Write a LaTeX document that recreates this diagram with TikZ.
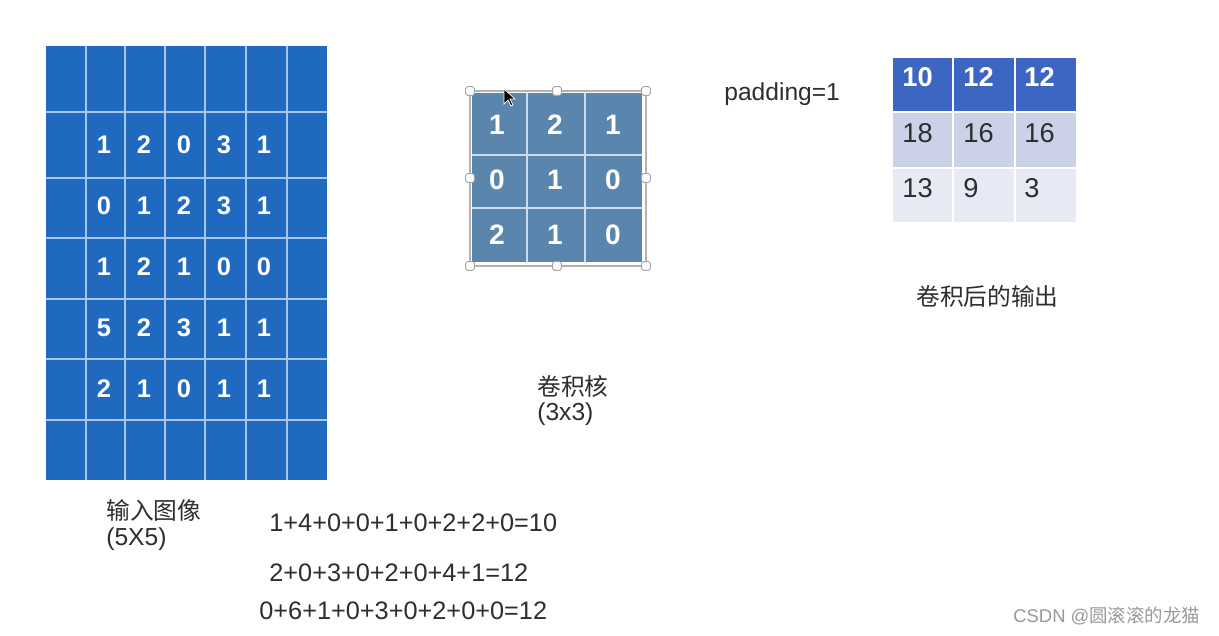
\documentclass[tikz,border=0pt]{standalone}
\usepackage{fontspec}
\setmainfont{Liberation Sans}
\newfontfamily\cjk{Noto Sans CJK SC}
\usetikzlibrary{positioning}
\definecolor{inblue}{HTML}{1F69C1}
\definecolor{inline}{HTML}{A8C6EC}
\definecolor{kerblue}{HTML}{5A86AD}
\definecolor{kerline}{HTML}{C9DCEE}
\definecolor{outhead}{HTML}{3D65C2}
\definecolor{outmid}{HTML}{CBD1E7}
\definecolor{outlow}{HTML}{E7E9F4}
\definecolor{txtdark}{HTML}{2E2E2E}

\begin{document}
\begin{tikzpicture}[
        x=0.02cm, y=-0.02cm,
        cellnum/.style={text=white, inner sep=0pt,
                        font=\fontsize{14.5}{16}\selectfont\bfseries},
        outnum/.style={anchor=west, inner sep=0pt, text=txtdark,
                       font=\fontsize{15.5}{18}\selectfont},
        label/.style={anchor=west, inner sep=0pt, text=txtdark,
                      font=\fontsize{14}{16}\selectfont},
        cjklabel/.style={anchor=west, inner sep=0pt, text=txtdark,
                         font=\fontsize{13.5}{16}\selectfont\cjk},
        handle/.style={draw=gray!70, fill=white, line width=0.5pt,
                       minimum size=5pt, inner sep=0pt, rounded corners=1pt}
      ]
      \useasboundingbox[fill=white] (0,0) rectangle (1219,635);

      % input image 5x5 with padding
      \fill[inblue] (46,46) rectangle (327,480);
      \foreach \x in {86,125,165,205,246,287}
        \draw[inline, line width=1.2pt] (\x,46) -- (\x,480);
      \foreach \y in {112,178,238,299,359,420}
        \draw[inline, line width=1.2pt] (46,\y) -- (327,\y);
      \foreach \row [count=\r] in {{1,2,0,3,1},{0,1,2,3,1},{1,2,1,0,0},
                                   {5,2,3,1,1},{2,1,0,1,1}}
        \foreach \v [count=\c] in \row
          \node[cellnum] (in-\r-\c) at ({64+40*\c},{145+61*(\r-1)}) {\v};

      % kernel 3x3
      \fill[kerblue] (472,93) rectangle (642,262);
      \draw[kerline, line width=1pt] (527,93) -- (527,262);
      \draw[kerline, line width=1pt] (585,93) -- (585,262);
      \draw[kerline, line width=1pt] (472,155) -- (642,155);
      \draw[kerline, line width=1pt] (472,208) -- (642,208);
      \foreach \row [count=\r] in {{1,2,1},{0,1,0},{2,1,0}}
        \foreach \v [count=\c] in \row
          \node[cellnum, font=\fontsize{16}{18}\selectfont\bfseries]
            (ker-\r-\c) at ({439+58*\c},{70+55*\r}) {\v};
      \draw[gray!60, line width=0.7pt] (470,91) rectangle (646,266);
      \foreach \hx/\hy in {470/91,557/91,646/91,470/178,646/178,
                           470/266,557/266,646/266}
        \node[handle] at (\hx,\hy) {};
      \fill[black, draw=white, line width=0.4pt]
        (504,89) -- (504,104) -- (508,100) -- (511,106) -- (513,105)
        -- (510,99) -- (515,99) -- cycle;

      % output 3x3
      \fill[outhead] (893,58) rectangle (1076,112);
      \fill[outmid] (893,112) rectangle (1076,168);
      \fill[outlow] (893,168) rectangle (1076,222);
      \foreach \x in {953,1015}
        \draw[white, line width=1.4pt] (\x,58) -- (\x,222);
      \foreach \y in {112,168}
        \draw[white, line width=1.4pt] (893,\y) -- (1076,\y);
      \foreach \v [count=\c] in {10,12,12}
        \node[outnum, text=white, font=\fontsize{15.5}{18}\selectfont\bfseries]
          (out-1-\c) at ({841+61*\c},77) {\v};
      \foreach \row [count=\r] in {{18,16,16},{13,9,3}}
        \foreach \v [count=\c] in \row
          \node[outnum] (out-\r-\c) at ({841+61*\c},{78+55*\r}) {\v};

      % labels
      \node[label] (pad) at (724,94) {padding=1};
      \node[cjklabel] (outlbl) at (916,296) {卷积后的输出};
      \node[cjklabel] (kerlbl) at (537,386) {卷积核};
      \node[label] (kersize) at (537,414) {(3x3)};
      \node[cjklabel] (inlbl) at (106,510) {输入图像};
      \node[label] (insize) at (106,539) {(5X5)};
      \node[label, font=\fontsize{14.4}{16}\selectfont] (eq1) at (269,523) {1+4+0+0+1+0+2+2+0=10};
      \node[label, font=\fontsize{14.4}{16}\selectfont] (eq2) at (269,573) {2+0+3+0+2+0+4+1=12};
      \node[label, font=\fontsize{14.4}{16}\selectfont] (eq3) at (259,611) {0+6+1+0+3+0+2+0+0=12};
      \node[anchor=west, inner sep=0pt, text=gray!80,
            font=\fontsize{10.5}{12}\selectfont] (mark) at (1013,616)
        {CSDN @{\cjk 圆滚滚的龙猫}};
    \end{tikzpicture}
\end{document}
